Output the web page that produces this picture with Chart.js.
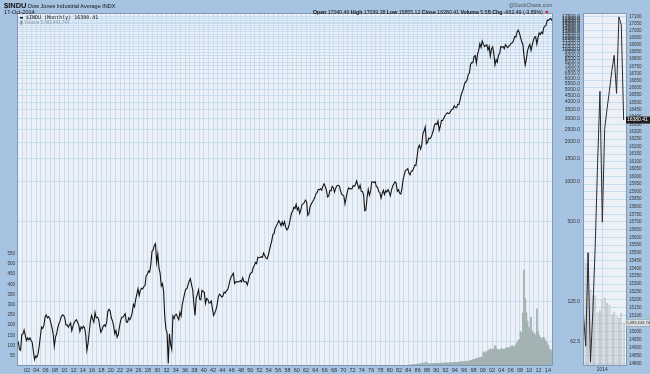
<!DOCTYPE html>
<html>
<head>
<meta charset="utf-8">
<script src="https://cdn.jsdelivr.net/npm/chart.js@4"></script>
<style>
body { margin: 0; width: 650px; height: 374px; overflow: hidden; position: relative; background: #a7c3e2; font-family: "Liberation Sans", Arial, sans-serif; }
canvas { position: absolute; top: 0; }
#main { left: 0; }
#side { left: 580px; }
.t { position: absolute; white-space: nowrap; color: #111; line-height: 1; }
</style>
</head>
<body>
<canvas id="main" width="580" height="374"></canvas>
<canvas id="side" width="70" height="374"></canvas>

<div class="t" style="left:4px;top:2px;font-size:5.5px"><b style="font-size:7.5px">$INDU</b> Dow Jones Industrial Average INDX</div>
<div class="t" style="left:4px;top:10px;font-size:5.5px">17-Oct-2014</div>
<div class="t" style="left:509px;top:3px;font-size:5px;color:#555">@StockCharts.com</div>
<div class="t" style="left:313px;top:10px;font-size:5.2px"><b>Open</b> 17040.46 <b>High</b> 17099.38 <b>Low</b> 15855.12 <b>Close</b> 16380.41 <b>Volume</b> 5.5B <b>Chg</b> -662.49 (-3.89%) <span style="color:#d00">&#9660;</span></div>
<div class="t" style="left:20px;top:15px;font-size:5px;font-family:'DejaVu Sans Mono',monospace">&#9644; $INDU (Monthly) 16380.41</div>
<div class="t" style="left:20px;top:21px;font-size:4.5px;color:#8a9aa8"><span style="color:#7a8a90">&#9646;</span> Volume 5,483,443,744</div>

<script>
// Dow Jones Industrial Average, quarterly closes
const priceStartYear = 1900;
const dowCloses = [
  63, 55, 54, 71,   72, 77, 70, 64,
  67, 65, 67, 64,   62, 53, 46, 49,
  48, 51, 58, 69,   81, 79, 83, 96,
  100, 95, 97, 94,  87, 80, 72, 58,
  68, 72, 80, 86,   90, 97, 100, 99,
  95, 84, 84, 81,   84, 87, 76, 82,
  87, 90, 92, 88,   84, 75, 81, 79,
  82, 80, 71, 54,   61, 74, 89, 99,
  93, 88, 104, 95,  96, 93, 83, 74,
  77, 82, 84, 82,   88, 106, 110, 107,
  95, 90, 83, 72,   76, 68, 71, 81,
  90, 96, 96, 99,   102, 88, 88, 95,
  92, 96, 104, 120, 115, 131, 143, 157,
  140, 153, 158, 157, 163, 166, 197, 202,
  213, 210, 240, 300, 308, 333, 343, 248,
  286, 226, 205, 165, 172, 151, 97, 78,
  73, 43, 72, 60,   55, 98, 94, 100,
  101, 96, 92, 104, 98, 119, 131, 144,
  156, 157, 168, 180, 187, 169, 154, 121,
  99, 134, 142, 154, 131, 130, 153, 150,
  148, 122, 133, 131, 123, 123, 127, 111,
  99, 103, 109, 119, 136, 143, 141, 136,
  138, 148, 146, 152, 154, 165, 181, 193,
  199, 206, 172, 177, 177, 177, 178, 181,
  177, 190, 178, 177, 177, 168, 182, 200,
  206, 209, 226, 235, 248, 243, 271, 269,
  270, 274, 271, 292, 280, 268, 264, 281,
  304, 334, 361, 404, 409, 451, 467, 488,
  512, 493, 468, 500, 474, 503, 456, 436,
  447, 478, 532, 584, 602, 644, 632, 679,
  617, 641, 580, 616, 677, 684, 701, 731,
  706, 561, 579, 652, 683, 707, 733, 763,
  813, 832, 875, 874, 889, 868, 931, 969,
  924, 870, 772, 786, 865, 860, 927, 905,
  840, 898, 936, 944, 935, 873, 813, 800,
  785, 683, 761, 839, 904, 891, 887, 890,
  940, 929, 953, 1020, 951, 892, 947, 851,
  847, 802, 608, 616, 768, 879, 794, 852,
  999, 1003, 990, 1005, 919, 916, 847, 831,
  757, 819, 866, 805, 862, 842, 878, 839,
  786, 868, 932, 964, 1004, 977, 850, 875,
  823, 812, 896, 1047, 1130, 1222, 1233, 1259,
  1165, 1132, 1207, 1212, 1267, 1336, 1329, 1547,
  1819, 1893, 1768, 1896, 2305, 2419, 2596, 1939,
  1988, 2142, 2113, 2169, 2294, 2440, 2693, 2753,
  2707, 2881, 2453, 2634, 2914, 2907, 3017, 3169,
  3236, 3319, 3272, 3301, 3435, 3516, 3555, 3754,
  3636, 3625, 3843, 3834, 4158, 4556, 4789, 5117,
  5587, 5655, 5882, 6448, 6584, 7673, 7945, 7908,
  8800, 8952, 7843, 9181, 9786, 10971, 10337, 11497,
  10922, 10448, 10651, 10787, 9879, 10502, 8848, 10022,
  10404, 9243, 7592, 8342, 7992, 8985, 9275, 10454,
  10358, 10435, 10080, 10783, 10504, 10275, 10569, 10718,
  11109, 11150, 11679, 12463, 12354, 13409, 13896, 13265,
  12263, 11350, 10851, 8776, 7609, 8447, 9712, 10428,
  10857, 9774, 10788, 11578, 12320, 12414, 10913, 12218,
  13212, 12880, 13437, 13104, 14579, 14910, 15130, 16577,
  16457, 16827, 17043, 16380
];

// volume, quarterly, in the units of the left-hand scale
const volumeStartYear = 1984;
const dowVolume = [
  5, 5, 6, 6,       7, 7, 8, 9,
  10, 10, 11, 12,   14, 14, 15, 20,
  12, 11, 11, 11,   12, 12, 13, 13,
  13, 13, 14, 13,   14, 14, 14, 15,
  15, 15, 15, 16,   16, 17, 17, 18,
  18, 18, 18, 19,   19, 20, 21, 21,
  22, 23, 23, 24,   25, 27, 28, 32,
  32, 33, 38, 38,   40, 42, 42, 46,
  65, 70, 62, 70,   75, 78, 85, 80,
  80, 85, 100, 90,  80, 80, 78, 82,
  85, 82, 80, 86,   88, 90, 86, 92,
  95, 100, 92, 98,  105, 115, 125, 130,
  170, 160, 260, 470, 330, 260, 220, 190,
  180, 240, 170, 160, 160, 150, 280, 170,
  150, 140, 130, 140, 140, 130, 120, 110,
  100, 80, 80, 70
];

// right hand price scale and left hand volume scale
const priceTicks = [62.5, 125, 250, 500, 1000, 1500, 2000, 2500, 3000, 3500, 4000, 4500, 5000,
  5500, 6000, 6500, 7000, 7500, 8000, 8500, 9000, 9500, 10000, 10500, 11000, 11500, 12000,
  12500, 13000, 13500, 14000, 14500, 15000, 15500, 16000, 16500, 17000, 17500];
const volumeTicks = [50, 100, 150, 200, 250, 300, 350, 400, 450, 500, 550];

// 2014 close-up panel: monthly closes and volume, May 2013 - Oct 2014
const recentMonths = ['2013-05', '2013-06', '2013-07', '2013-08', '2013-09', '2013-10', '2013-11', '2013-12',
  '2014-01', '2014-02', '2014-03', '2014-04', '2014-05', '2014-06', '2014-07', '2014-08', '2014-09', '2014-10'];
const recentCloses = [15116, 14910, 15500, 14810, 15130, 15546, 16086, 16577,
  15699, 16322, 16458, 16581, 16717, 16827, 16563, 17098, 17043, 16380];
const recentVolume = [120, 117, 128, 86, 80, 80, 61, 63, 75, 77, 71, 69, 58, 61, 56, 54, 60, 49];
const sideTicks = [14800, 14850, 14900, 14950, 15000, 15050, 15100, 15150, 15200, 15250, 15300,
  15350, 15400, 15450, 15500, 15550, 15600, 15650, 15700, 15750, 15800, 15850, 15900, 15950,
  16000, 16050, 16100, 16150, 16200, 16250, 16300, 16350, 16400, 16450, 16500, 16550, 16600,
  16650, 16700, 16750, 16800, 16850, 16900, 16950, 17000, 17050, 17100];

const plotBg = '#eef0f8';
const gridCol = '#c6dcef';
const tickFont = { family: 'Liberation Sans, Arial, sans-serif', size: 5 };

const frame = {
  id: 'frame',
  beforeDraw(chart) {
    const { ctx, chartArea: a } = chart;
    ctx.save();
    ctx.fillStyle = plotBg;
    ctx.fillRect(a.left, a.top, a.right - a.left, a.bottom - a.top);
    ctx.restore();
  },
  afterDraw(chart) {
    const { ctx, chartArea: a } = chart;
    ctx.save();
    ctx.strokeStyle = '#7f98b3';
    ctx.lineWidth = 1;
    ctx.strokeRect(a.left + 0.5, a.top + 0.5, a.right - a.left - 1, a.bottom - a.top - 1);
    ctx.restore();
  }
};

const pricePoints = dowCloses.map((v, i) => ({ x: priceStartYear + i / 4 + 0.125, y: v }));
const volumePoints = dowVolume.map((v, i) => ({ x: volumeStartYear + i / 4 + 0.125, y: v }));

new Chart(document.getElementById('main'), {
  data: {
    datasets: [{
      type: 'line',
      data: pricePoints,
      yAxisID: 'price',
      borderColor: '#151515',
      borderWidth: 1.1,
      pointRadius: 0,
      order: 0
    }, {
      type: 'bar',
      data: volumePoints,
      yAxisID: 'vol',
      backgroundColor: '#a3b2b3',
      borderWidth: 0,
      barPercentage: 1,
      categoryPercentage: 1,
      order: 1
    }]
  },
  options: {
    responsive: false,
    animation: false,
    layout: { padding: { top: 13, bottom: 0, left: 0, right: 0 } },
    plugins: { legend: { display: false }, tooltip: { enabled: false } },
    scales: {
      x: {
        type: 'linear',
        offset: false,
        min: 1899.85,
        max: 2015.1,
        afterBuildTicks: s => {
          const t = [];
          for (let y = 1900; y <= 2015; y++) t.push({ value: y });
          s.ticks = t;
        },
        afterFit: s => { s.height = 8; },
        grid: { color: gridCol, drawTicks: false, offset: false },
        border: { display: false },
        ticks: {
          autoSkip: false, maxRotation: 0, padding: 1, color: '#333', font: { ...tickFont, size: 5.5 },
          callback: v => (v % 2 === 0 && v > 1900 && v < 2015) ? String(v % 100).padStart(2, '0') : ''
        }
      },
      price: {
        type: 'logarithmic',
        position: 'right',
        min: 41.2,
        max: 18710,
        afterBuildTicks: s => { s.ticks = priceTicks.map(v => ({ value: v })); },
        afterFit: s => { s.width = 27; },
        grid: { color: gridCol, drawTicks: false },
        border: { display: false },
        ticks: {
          autoSkip: false, padding: 3, crossAlign: 'far', color: '#333', font: tickFont,
          callback: v => v === 250 ? '' : Number(v).toFixed(1)
        }
      },
      vol: {
        type: 'linear',
        position: 'left',
        min: 0,
        max: 1730,
        afterBuildTicks: s => { s.ticks = volumeTicks.map(v => ({ value: v })); },
        afterFit: s => { s.width = 17; },
        grid: { display: false, drawTicks: false },
        border: { display: false },
        ticks: { autoSkip: false, padding: 2, color: '#333', font: { ...tickFont, size: 4.5 } }
      }
    }
  },
  plugins: [frame]
});

// close-up of the last months
const sideX = recentMonths.map(m => +m.slice(0, 4) + (+m.slice(5) - 1) / 12);

const flags = {
  id: 'flags',
  afterDraw(chart) {
    const { ctx } = chart;
    const yp = chart.scales.price.getPixelForValue(recentCloses[recentCloses.length - 1]);
    const yv = chart.scales.vol.getPixelForValue(recentVolume[recentVolume.length - 1]);
    ctx.save();
    ctx.font = '5px Liberation Sans, Arial, sans-serif';
    ctx.textBaseline = 'middle';
    ctx.fillStyle = '#1e1e1e';
    ctx.fillRect(46, yp - 3.5, 24, 7);
    ctx.fillStyle = '#fff';
    ctx.fillText('16380.41', 47, yp);
    ctx.fillStyle = '#d9dde0';
    ctx.fillRect(46, yv - 3.5, 24, 7);
    ctx.strokeStyle = '#8a959b';
    ctx.lineWidth = 0.5;
    ctx.strokeRect(46, yv - 3.5, 24, 7);
    ctx.fillStyle = '#333';
    ctx.font = '4px Liberation Sans, Arial, sans-serif';
    ctx.fillText('5,483,443,744', 46.5, yv);
    ctx.restore();
  }
};

new Chart(document.getElementById('side'), {
  data: {
    datasets: [{
      type: 'line',
      data: recentCloses.map((v, i) => ({ x: sideX[i], y: v })),
      yAxisID: 'price',
      borderColor: '#2a2a2a',
      borderWidth: 1,
      pointRadius: 0,
      order: 0
    }, {
      type: 'bar',
      data: recentVolume.map((v, i) => ({ x: sideX[i], y: v })),
      yAxisID: 'vol',
      backgroundColor: '#d3d9dd',
      borderColor: '#98a3a8',
      borderWidth: 0.6,
      barPercentage: 0.8,
      categoryPercentage: 1,
      order: 1
    }]
  },
  options: {
    responsive: false,
    animation: false,
    layout: { padding: { top: 13, bottom: 0, left: 3, right: 0 } },
    plugins: { legend: { display: false }, tooltip: { enabled: false } },
    scales: {
      x: {
        type: 'linear',
        offset: false,
        min: 2013.32,
        max: 2014.868,
        afterBuildTicks: s => { s.ticks = [{ value: 2014 }]; },
        afterFit: s => { s.height = 8; },
        grid: { color: gridCol, drawTicks: false, offset: false },
        border: { display: false },
        ticks: { autoSkip: false, maxRotation: 0, padding: 1, color: '#333', font: { ...tickFont, size: 5 }, callback: () => '2014' }
      },
      price: {
        type: 'logarithmic',
        position: 'right',
        min: 14787,
        max: 17126,
        afterBuildTicks: s => { s.ticks = sideTicks.map(v => ({ value: v })); },
        afterFit: s => { s.width = 23; },
        grid: { color: gridCol, drawTicks: false },
        border: { display: false },
        ticks: { autoSkip: false, padding: 2, color: '#333', font: { ...tickFont, size: 4.5 }, callback: v => String(v) }
      },
      vol: {
        type: 'linear',
        display: false,
        min: 0,
        max: 400
      }
    }
  },
  plugins: [frame, flags]
});
</script>
</body>
</html>
